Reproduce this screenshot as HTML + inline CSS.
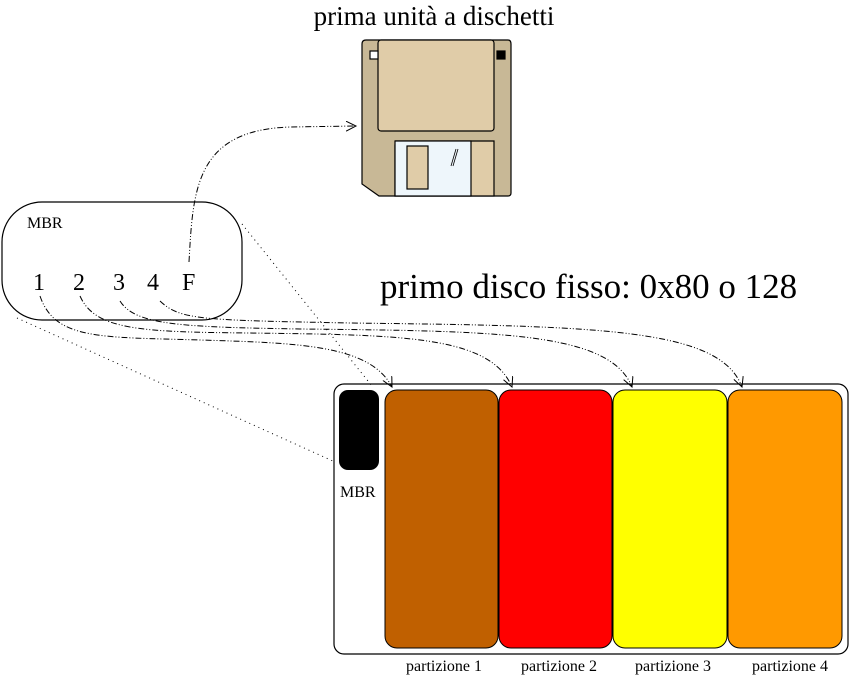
<!DOCTYPE html>
<html><head><meta charset="utf-8"><style>
html,body{margin:0;padding:0;background:#fff;}
svg{display:block;}
text{font-family:"Liberation Serif",serif;fill:#000;}
</style></head><body>
<svg width="850" height="681" viewBox="0 0 850 681" xmlns="http://www.w3.org/2000/svg">
<defs>
<marker id="ar" markerWidth="12" markerHeight="12" refX="10" refY="5" orient="auto" markerUnits="userSpaceOnUse">
<path d="M0,0 L10,5 L0,10" fill="none" stroke="#000" stroke-width="1"/>
</marker>
</defs>
<text x="434" y="25" font-size="27" text-anchor="middle">prima unità a dischetti</text>
<g stroke="#000" stroke-width="1.2">
<path d="M366,40 L508,40 Q511,40 511,44 L511,193 Q511,196 508,196 L379,196 L362,184 L362,44 Q362,40 366,40 Z" fill="#c8b896"/>
<rect x="378" y="40" width="116" height="91" rx="3" fill="#e0cca8"/>
<rect x="370" y="51" width="8" height="8" fill="#fff"/>
<rect x="497" y="51" width="8" height="8" fill="#000"/>
<path d="M395,141 L494,141 Q494,141 494,145 L494,196 L395,196 L395,145 Q395,141 399,141Z" fill="#e0cca8"/>
<rect x="395" y="141" width="76" height="55" fill="#eef6fb"/>
<rect x="407" y="146" width="21" height="43" fill="#e0cca8"/>
<path d="M451,166 L456,149 M453,166 L458,149" stroke-width="0.8"/>
</g>
<rect x="2" y="202" width="240" height="118" rx="40" fill="#fff" stroke="#000" stroke-width="1.2"/>
<text x="27" y="228" font-size="16">MBR</text>
<text x="33" y="290" font-size="24">1</text>
<text x="73" y="290" font-size="24">2</text>
<text x="113" y="290" font-size="24">3</text>
<text x="147" y="290" font-size="24">4</text>
<text x="182" y="290" font-size="24">F</text>
<text x="380" y="298" font-size="35">primo disco fisso: 0x80 o 128</text>
<rect x="334" y="384" width="514" height="270" rx="10" fill="#fff" stroke="#000" stroke-width="1.2"/>
<rect x="339" y="390" width="40" height="80" rx="9" fill="#000"/>
<text x="340" y="497" font-size="16" font-family="Liberation Sans">MBR</text>
<g stroke="#000" stroke-width="1">
<rect x="385" y="390" width="113" height="258" rx="12" fill="#c06000"/>
<rect x="499" y="390" width="113" height="258" rx="12" fill="#ff0000"/>
<rect x="613" y="390" width="114" height="258" rx="12" fill="#ffff00"/>
<rect x="728" y="390" width="114" height="258" rx="12" fill="#ff9900"/>
</g>
<g font-size="16" text-anchor="middle">
<text x="444" y="671">partizione 1</text>
<text x="559" y="671">partizione 2</text>
<text x="673" y="671">partizione 3</text>
<text x="790" y="671">partizione 4</text>
</g>
<g fill="none" stroke="#000" stroke-width="1" marker-end="url(#ar)">
<path d="M189,262 C193,190 195,130 290,127 L356,126" stroke-dasharray="6,2,1,2,1,2"/>
<path d="M40,296 C55,340 100,337 200,340 C300,343 370,345 392,387" stroke-dasharray="6,2,1,2,1,2"/>
<path d="M80,296 C95,330 140,332 250,333 C400,335 490,335 512,387" stroke-dasharray="6,2,1,2,1,2"/>
<path d="M120,301 C135,325 180,327 300,329 C500,331 610,332 632,387" stroke-dasharray="6,2,1,2,1,2"/>
<path d="M160,301 C180,320 200,320 350,323 C600,326 720,328 742,387" stroke-dasharray="6,2,1,2,1,2"/>
</g>
<g fill="none" stroke="#000" stroke-width="1" stroke-dasharray="1,4">
<line x1="242" y1="224" x2="372" y2="386"/>
<line x1="17" y1="318" x2="335" y2="462"/>
</g>
</svg>
</body></html>
